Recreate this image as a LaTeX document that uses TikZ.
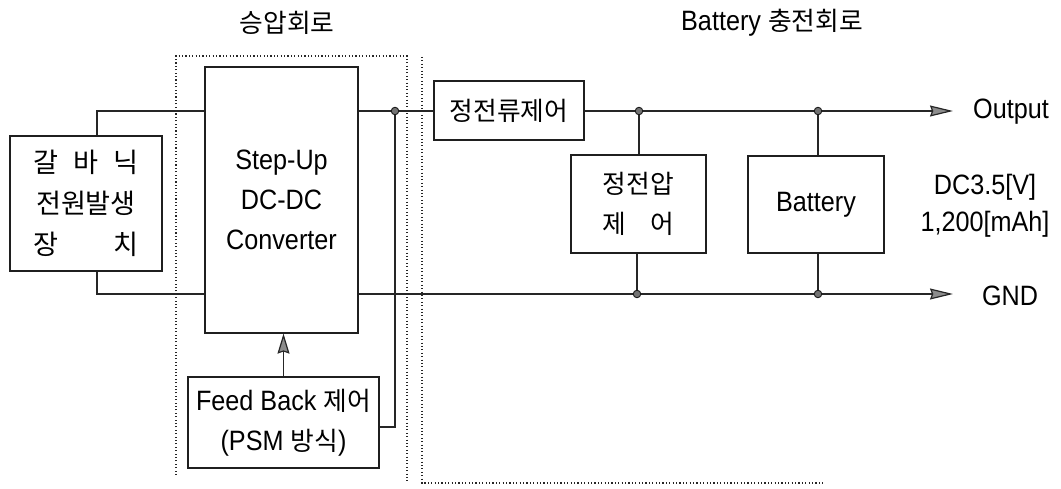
\documentclass[tikz,border=0pt]{standalone}
\usepackage{fontspec}
\setmainfont[FakeStretch=0.9]{Liberation Sans}
\newfontfamily\kr[Scale=0.92]{Noto Sans CJK KR}
\usetikzlibrary{arrows.meta}
\begin{document}
\begin{tikzpicture}[x=1pt,y=-1pt,
  blk/.style={draw=black!88,line width=1.2pt,inner sep=0pt,align=center,font=\fontsize{28}{40}\selectfont},
  wire/.style={draw=black!85,line width=1.2pt},
  outarrow/.style={wire,-{Stealth[length=23pt,width=11pt,inset=2pt,fill=black!45]}},
  fbarrow/.style={wire,-{Stealth[length=20pt,width=12pt,inset=2pt,fill=black!45]}},
  dot/.style={circle,draw=black!90,fill=black!55,line width=0.9pt,inner sep=0pt,minimum size=7.5pt},
  region/.style={draw=black!85,line width=1.2pt,dash pattern=on 1.1pt off 2.3pt},
  lbl/.style={font=\fontsize{28}{37}\selectfont,inner sep=0pt}]
\useasboundingbox (0,0) rectangle (1061,489);

% dotted regions
\draw[region] (176,475) -- (176,56) -- (407,56) -- (407,482);
\draw[region] (422,57) -- (422,483) -- (823,483);

% titles
\node[lbl] (t1) at (287,23) {\kr 승압회로};
\node[lbl] (t2) at (772,23) {Battery {\kr 충전회로}};

% blocks
\node[blk,minimum width=152pt,minimum height=135pt,font=\fontsize{29.5}{41}\selectfont] (gal) at (86,203.5)
  {\kr\makebox[104pt]{갈\hfill 바\hfill 닉}\\\kr\makebox[104pt]{전원발생}\\\kr\makebox[104pt]{장\hfill 치}};
\node[blk,minimum width=153pt,minimum height=266pt] (conv) at (281.5,200)
  {Step-Up\\DC-DC\\Converter};
\node[blk,minimum width=191pt,minimum height=91pt] (fb) at (283.5,422.5)
  {Feed Back {\kr 제어}\\({PSM} {\kr 방식})};
\node[blk,minimum width=150pt,minimum height=59pt] (cc) at (509,110.5) {\kr 정전류제어};
\node[blk,minimum width=135pt,minimum height=98pt] (cv) at (638.5,204)
  {\kr 정전압\\\kr\makebox[72pt]{제\hfill 어}};
\node[blk,minimum width=136pt,minimum height=97pt] (bat) at (816,204.5) {Battery};

% junctions and ends
\coordinate (j1) at (395,111);
\coordinate (j2) at (639,111);
\coordinate (j3) at (818,111);
\coordinate (j4) at (637,294);
\coordinate (j5) at (818,294);
\coordinate (outend) at (953,111);
\coordinate (gndend) at (953,294);

% input wires
\draw[wire] ([xshift=11pt]gal.north) |- (conv.west |- j1);
\draw[wire] ([xshift=11pt]gal.south) |- (conv.west |- j4);

% converter output
\draw[wire] (conv.east |- j1) -- (j1) -- (cc.west |- j1);
\draw[outarrow] (cc.east |- j2) -- (j2) -- (j3) -- (outend);
\draw[outarrow] (conv.east |- j4) -- (j4) -- (j5) -- (gndend);

% verticals
\draw[wire] (j2) -- (cv.north -| j2);
\draw[wire] (cv.south -| j4) -- (j4);
\draw[wire] (j3) -- (bat.north -| j3);
\draw[wire] (bat.south -| j5) -- (j5);

% feedback
\draw[wire] (j1) |- ([yshift=-4.5pt]fb.east);
\draw[fbarrow] (fb.north) -- (conv.south -| fb.north);

% dots
\node[dot] (d1) at (j1) {};
\node[dot] (d2) at (j2) {};
\node[dot] (d3) at (j3) {};
\node[dot] (d4) at (j4) {};
\node[dot] (d5) at (j5) {};

% end labels
\node[lbl] (out) at (1011,112) {Output};
\node[lbl] (gnd) at (1010,296) {GND};
\node[lbl,align=center] (spec) at (985,206) {DC3.5[V]\\1,200[mAh]};
\end{tikzpicture}
\end{document}
